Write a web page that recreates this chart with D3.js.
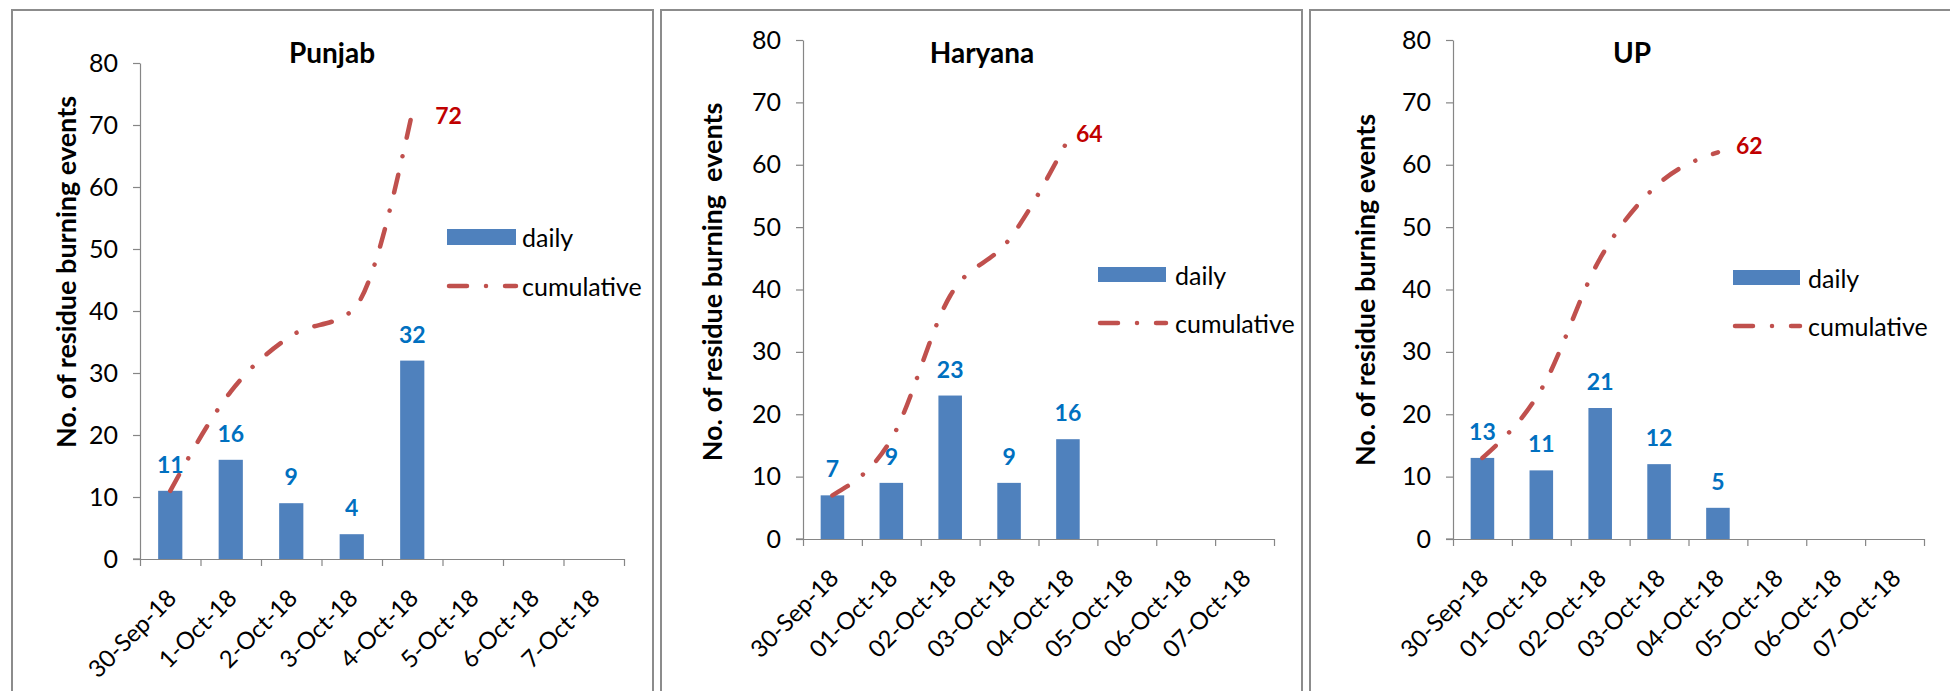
<!DOCTYPE html>
<html><head><meta charset="utf-8">
<script src="https://cdn.jsdelivr.net/npm/d3@7"></script>
<style>html,body{margin:0;padding:0;background:#fff;overflow:hidden}</style>
</head><body><svg id="c" width="1950" height="691"></svg>
<script>
// ---- data ----
const categoriesPunjab = ["30-Sep-18","1-Oct-18","2-Oct-18","3-Oct-18","4-Oct-18","5-Oct-18","6-Oct-18","7-Oct-18"];
const categoriesOther  = ["30-Sep-18","01-Oct-18","02-Oct-18","03-Oct-18","04-Oct-18","05-Oct-18","06-Oct-18","07-Oct-18"];
const dailyPunjab = [11,16,9,4,32];
const cumulativePunjab = [11,27,36,40,72];
const dailyHaryana = [7,9,23,9,16];
const cumulativeHaryana = [7,16,39,48,64];
const dailyUP = [13,11,21,12,5];
const cumulativeUP = [13,24,45,57,62];
const yTicks = [0,10,20,30,40,50,60,70,80];
const seriesNames = ["daily","cumulative"];
const titles = ["Punjab","Haryana","UP"];
const yLabels = ["No. of residue burning events","No. of residue burning  events","No. of residue burning events"];

// ---- layout ----
const panels = [
  {title:titles[0], yLabel:yLabels[0], cats:categoriesPunjab, daily:dailyPunjab, cum:cumulativePunjab,
   box:[12,10,653], x0:140, x1:624, yTop:63, yBottom:559, titleXY:[332,52], yLabXY:[65,272],
   leg:{x:447,y:229,w:69,h:16,tx:522,ly:286}, endLab:{dx:23,dy:2}},
  {title:titles[1], yLabel:yLabels[1], cats:categoriesOther, daily:dailyHaryana, cum:cumulativeHaryana,
   box:[661,10,1302], x0:803, x1:1274, yTop:40, yBottom:539, titleXY:[982,52], yLabXY:[711,282],
   leg:{x:1098,y:267,w:68,h:15,tx:1175,ly:323}, endLab:{dx:8,dy:-7}},
  {title:titles[2], yLabel:yLabels[2], cats:categoriesOther, daily:dailyUP, cum:cumulativeUP,
   box:[1310,10,1955], x0:1453, x1:1924, yTop:40, yBottom:539, titleXY:[1632,52], yLabXY:[1364,290],
   leg:{x:1733,y:270,w:67,h:15,tx:1808,ly:326}, endLab:{dx:18,dy:-7}}
];

const FONT = "Lato, 'Open Sans', sans-serif";
const BAR = "#4F81BD", LINE = "#C0504D", DLAB = "#0070C0", CLAB = "#C00000", AX = "#868686";
const DASH = "18,19,0.01,19";
const FS = 25;
const svg = d3.select("#c");

panels.forEach(p => {
  const g = svg.append("g");
  g.append("rect").attr("x",p.box[0]).attr("y",p.box[1]).attr("width",p.box[2]-p.box[0]).attr("height",800)
    .attr("fill","#fff").attr("stroke","#8c8c8c").attr("stroke-width",2);

  const y = d3.scaleLinear().domain([0,80]).range([p.yBottom,p.yTop]);
  const xb = d3.scaleBand().domain(p.cats).range([p.x0,p.x1]).paddingInner(0.6).paddingOuter(0.3);
  const xc = d3.scaleBand().domain(p.cats).range([p.x0,p.x1]).padding(0);
  const xl = d3.scaleLinear().domain([0,p.cats.length]).range([p.x0,p.x1]);
  const cx = c => xc(c) + xc.bandwidth()/2;

  // y axis
  const ya = g.append("g").attr("transform",`translate(${p.x0},0)`)
    .call(d3.axisLeft(y).tickValues(yTicks).tickSize(7).tickSizeOuter(0).tickPadding(15));
  ya.selectAll("path,line").attr("stroke",AX).attr("stroke-width",1.2);
  ya.selectAll("text").attr("font-family",FONT).attr("font-size",FS).attr("fill","#000");

  // x axis (ticks at category boundaries)
  const xa = g.append("g").attr("transform",`translate(0,${p.yBottom})`)
    .call(d3.axisBottom(xl).tickValues(d3.range(p.cats.length+1)).tickSize(7).tickSizeOuter(0).tickFormat(""));
  xa.selectAll("path,line").attr("stroke",AX).attr("stroke-width",1.2);
  g.append("line").attr("x1",p.x0-7).attr("x2",p.x0).attr("y1",p.yBottom).attr("y2",p.yBottom).attr("stroke",AX).attr("stroke-width",1.2);

  // category labels
  g.selectAll("text.cat").data(p.cats).join("text").attr("class","cat")
    .attr("transform",c=>`translate(${cx(c)+1},${p.yBottom+34}) rotate(-45)`)
    .attr("text-anchor","end").attr("dominant-baseline","central")
    .attr("font-family",FONT).attr("font-size",24).attr("fill","#000").text(c=>c);

  // bars
  const dd = p.daily.map((v,i)=>({c:p.cats[i],v}));
  g.selectAll("rect.bar").data(dd).join("rect").attr("class","bar")
    .attr("x",d=>xb(d.c)).attr("width",xb.bandwidth())
    .attr("y",d=>y(d.v)).attr("height",d=>y(0)-y(d.v)).attr("fill",BAR);
  g.selectAll("text.dl").data(dd).join("text").attr("class","dl")
    .attr("x",d=>cx(d.c)).attr("y",d=>y(d.v)-27)
    .attr("text-anchor","middle").attr("dominant-baseline","central")
    .attr("font-family",FONT).attr("font-weight","bold").attr("font-size",23).attr("fill",DLAB).text(d=>d.v);

  // cumulative line
  const cd = p.cum.map((v,i)=>({c:p.cats[i],v}));
  const line = d3.line().x(d=>cx(d.c)).y(d=>y(d.v)).curve(d3.curveMonotoneX);
  g.append("path").datum(cd).attr("d",line).attr("fill","none").attr("stroke",LINE)
    .attr("stroke-width",4.5).attr("stroke-dasharray",DASH).attr("stroke-linecap","round");
  const last = cd[cd.length-1];
  g.append("text").attr("x",cx(last.c)+p.endLab.dx).attr("y",y(last.v)+p.endLab.dy)
    .attr("dominant-baseline","central").attr("font-family",FONT).attr("font-weight","bold")
    .attr("font-size",23).attr("fill",CLAB).text(last.v);

  // title
  g.append("text").attr("x",p.titleXY[0]).attr("y",p.titleXY[1]).attr("text-anchor","middle")
    .attr("dominant-baseline","central").attr("font-family",FONT).attr("font-weight","bold")
    .attr("font-size",28).attr("fill","#000").text(p.title);

  // y label
  g.append("text").attr("transform",`translate(${p.yLabXY[0]},${p.yLabXY[1]}) rotate(-90)`)
    .attr("text-anchor","middle").attr("dominant-baseline","central")
    .attr("font-family",FONT).attr("font-weight","bold").attr("font-size",27).attr("fill","#000")
    .attr("xml:space","preserve").style("white-space","pre").text(p.yLabel);

  // legend
  const L = p.leg;
  g.append("rect").attr("x",L.x).attr("y",L.y).attr("width",L.w).attr("height",L.h).attr("fill",BAR);
  g.append("text").attr("x",L.tx).attr("y",L.y+L.h/2).attr("dominant-baseline","central")
    .attr("font-family",FONT).attr("font-size",FS).attr("fill","#000").text(seriesNames[0]);
  g.append("line").attr("x1",L.x+2).attr("x2",L.x+L.w).attr("y1",L.ly).attr("y2",L.ly)
    .attr("stroke",LINE).attr("stroke-width",4.5).attr("stroke-dasharray",DASH).attr("stroke-linecap","round");
  g.append("text").attr("x",L.tx).attr("y",L.ly).attr("dominant-baseline","central")
    .attr("font-family",FONT).attr("font-size",FS).attr("fill","#000").text(seriesNames[1]);
});
</script></body></html>
